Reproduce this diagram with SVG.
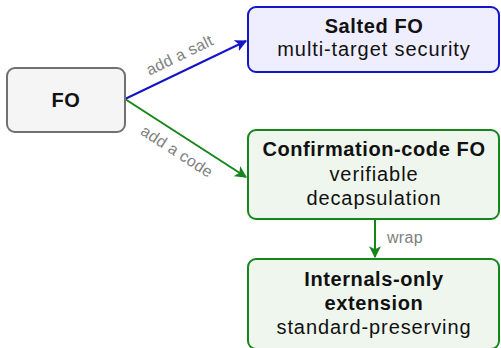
<svg xmlns="http://www.w3.org/2000/svg" width="501" height="348" viewBox="0 0 501 348">
  <style>
    .box { stroke-width: 2; }
    .plain { fill: #f5f5f5; stroke: #707070; }
    .blue { fill: #eeeeff; stroke: #1414c8; }
    .green { fill: #eef6ee; stroke: #17861a; }
    text { font-family: "Liberation Sans", Arial, sans-serif; fill: #111; text-anchor: middle; }
    .t { font-size: 20px; letter-spacing: 0.9px; }
    .b { font-weight: bold; letter-spacing: 0.6px; }
    .lbl { font-size: 16px; fill: #808080; letter-spacing: 0.3px; }
    .edge { fill: none; stroke-width: 2; }
  </style>
  <defs>
    <marker id="ahBlue" viewBox="0 0 10 10" refX="9" refY="5" markerWidth="6" markerHeight="6" orient="auto" markerUnits="strokeWidth">
      <path d="M0,0 L10,5 L0,10 L2.5,5 Z" fill="#1414c8"/>
    </marker>
    <marker id="ahGreen" viewBox="0 0 10 10" refX="9" refY="5" markerWidth="6" markerHeight="6" orient="auto" markerUnits="strokeWidth">
      <path d="M0,0 L10,5 L0,10 L2.5,5 Z" fill="#17861a"/>
    </marker>
  </defs>

  <g id="connectors">
    <path class="edge" d="M125,99 L246,41" stroke="#1414c8" marker-end="url(#ahBlue)"/>
    <path class="edge" d="M125,99 L246,177" stroke="#17861a" marker-end="url(#ahGreen)"/>
    <path class="edge" d="M375,220 L375,257" stroke="#17861a" marker-end="url(#ahGreen)"/>
    <text class="lbl" transform="translate(182,60) rotate(-25.8)">add a salt</text>
    <text class="lbl" transform="translate(174,156) rotate(32.6)">add a code</text>
    <text class="lbl" x="387" y="243" style="text-anchor:start">wrap</text>
  </g>

  <g id="node-fo">
    <rect class="box plain" x="7" y="68" width="118" height="64" rx="8"/>
    <text class="t b" x="66" y="107">FO</text>
  </g>

  <g id="node-salted">
    <rect class="box blue" x="248" y="7" width="251" height="65" rx="8"/>
    <text class="t b" x="374" y="33">Salted FO</text>
    <text class="t" x="374" y="56">multi-target security</text>
  </g>

  <g id="node-confirmation">
    <rect class="box green" x="248" y="130" width="251" height="89" rx="8"/>
    <text class="t b" x="374" y="156">Confirmation-code FO</text>
    <text class="t" x="374" y="181">verifiable</text>
    <text class="t" x="374" y="205">decapsulation</text>
  </g>

  <g id="node-internals">
    <rect class="box green" x="248" y="259" width="251" height="90" rx="8"/>
    <text class="t b" x="374" y="286">Internals-only</text>
    <text class="t b" x="374" y="310">extension</text>
    <text class="t" x="374" y="334">standard-preserving</text>
  </g>
</svg>
